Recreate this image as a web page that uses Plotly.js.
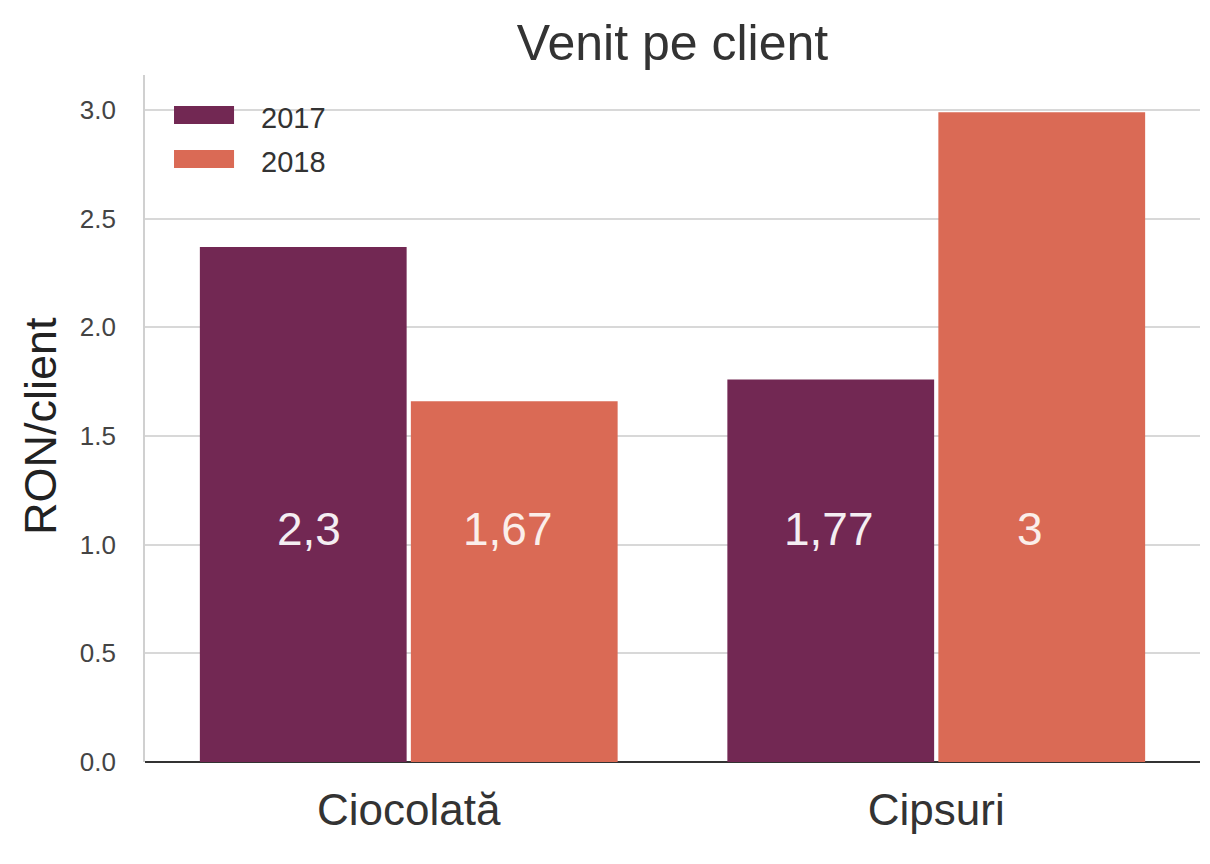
<!DOCTYPE html>
<html>
<head>
<meta charset="utf-8">
<script src="https://cdn.plot.ly/plotly-3.0.1.min.js"></script>
<style>html,body{margin:0;padding:0;background:#fff;}#chart{width:1210px;height:864px;}</style>
</head>
<body>
<div id="chart"></div>
<script>
const categories = ["Ciocolată", "Cipsuri"];
const seriesNames = ["2017", "2018"];
const values2017 = [2.37, 1.76];
const values2018 = [1.66, 2.99];
const labels2017 = ["2,3", "1,77"];
const labels2018 = ["1,67", "3"];
const labelLevel = 1.07;
const yTicks = [0, 0.5, 1.0, 1.5, 2.0, 2.5, 3.0];
const yTickText = ["0.0", "0.5", "1.0", "1.5", "2.0", "2.5", "3.0"];
const colors = ["#722853", "#da6a55"];

const FONT = "Liberation Sans, Arial, sans-serif";

const traces = [
  {type: "bar", name: seriesNames[0], x: categories, y: values2017,
   marker: {color: colors[0], line: {width: 0}}, showlegend: false, hoverinfo: "skip"},
  {type: "bar", name: seriesNames[1], x: categories, y: values2018,
   marker: {color: colors[1], line: {width: 0}}, showlegend: false, hoverinfo: "skip"}
];

const bargap = 0.2, groupgap = 0.02;
const offset = (1 - bargap) / 4;
const shift2017 = [6, -2];
const shift2018 = [-6, -12];
const annotations = [];
categories.forEach((c, i) => {
  annotations.push({x: i - offset, y: labelLevel, xref: "x", yref: "y", text: labels2017[i], xshift: shift2017[i],
    showarrow: false, font: {family: FONT, size: 46, color: "#f4eef2"}, xanchor: "center", yanchor: "middle"});
  annotations.push({x: i + offset, y: labelLevel, xref: "x", yref: "y", text: labels2018[i], xshift: shift2018[i],
    showarrow: false, font: {family: FONT, size: 46, color: "#fbeeea"}, xanchor: "center", yanchor: "middle"});
});

// legend (patches + names)
const legendRows = [[0.955, 0.9287], [0.8908, 0.8646]];
const shapes = [];
seriesNames.forEach((n, k) => {
  shapes.push({type: "rect", xref: "paper", yref: "paper", x0: 0.0275, x1: 0.0844,
    y0: legendRows[k][1], y1: legendRows[k][0], fillcolor: colors[k], line: {width: 0}});
  annotations.push({xref: "paper", yref: "paper", x: 0.108, y: (legendRows[k][0] + legendRows[k][1]) / 2 - 0.004,
    text: n, showarrow: false, xanchor: "left", yanchor: "middle",
    font: {family: FONT, size: 29, color: "#333"}});
});

// y axis title as rotated annotation
annotations.push({xref: "paper", yref: "paper", x: -0.0995, y: (762 - 426) / 687, text: "RON/client",
  textangle: -90, showarrow: false, xanchor: "center", yanchor: "middle",
  font: {family: FONT, size: 45, color: "#222"}});

const layout = {
  width: 1210, height: 864,
  margin: {l: 145, r: 10, t: 75, b: 102},
  paper_bgcolor: "#ffffff", plot_bgcolor: "#ffffff",
  barmode: "group", bargap: bargap, bargroupgap: groupgap,
  title: {text: "Venit pe client", x: 0.5, xref: "paper", y: 1 - 42 / 864, yref: "container",
    xanchor: "center", yanchor: "middle", font: {family: FONT, size: 50, color: "#333"}},
  xaxis: {type: "category", range: [-0.5, 1.5], showgrid: false, zeroline: false,
    showline: false, ticks: "", tickfont: {family: FONT, size: 44, color: "#333"},
    ticklabelstandoff: 18, fixedrange: true},
  yaxis: {range: [0, 3.161], tickvals: yTicks, ticktext: yTickText, showgrid: true,
    gridcolor: "#d8d8d8", gridwidth: 1.8, zeroline: true, zerolinecolor: "#333", zerolinewidth: 2,
    showline: true, linecolor: "#d0d0d0", linewidth: 1.8, ticks: "",
    tickfont: {family: FONT, size: 26, color: "#444"}, ticklabelstandoff: 22,
    fixedrange: true},
  shapes: shapes,
  annotations: annotations,
  showlegend: false
};

Plotly.newPlot("chart", traces, layout, {displayModeBar: false, staticPlot: true});
</script>
</body>
</html>
